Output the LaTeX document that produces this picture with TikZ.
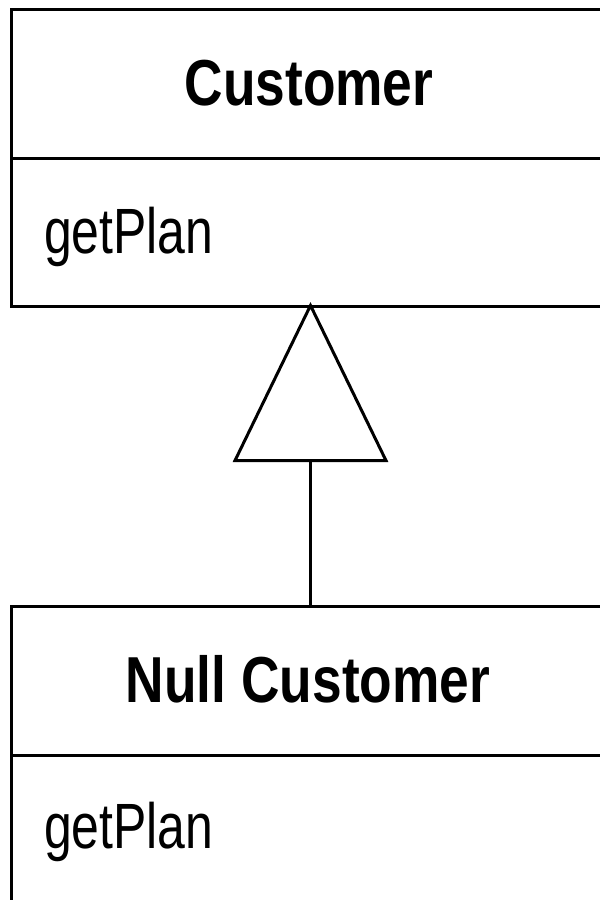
\documentclass[tikz,border=0pt]{standalone}
\usepackage{fontspec}
\setmainfont{Liberation Sans}
\newfontfamily\titlefont{Liberation Sans}[FakeStretch=0.82]
\newfontfamily\opfont{Liberation Sans}[FakeStretch=0.78]
\usetikzlibrary{arrows.meta}
\begin{document}
\begin{tikzpicture}[x=1pt,y=-1pt,
  classbox/.style={draw, line width=3pt, inner sep=0pt, minimum width=598pt, anchor=north west},
  divider/.style={line width=3pt},
  classname/.style={anchor=base, inner sep=0pt, font=\titlefont\bfseries\fontsize{65}{70}\selectfont},
  opname/.style={anchor=base west, inner sep=0pt, font=\opfont\fontsize{64}{70}\selectfont},
  inherit/.style={line width=3pt, shorten >=-6pt, -{Triangle[open, length=160pt, width=155pt]}}]
\useasboundingbox (0,0) rectangle (600,900);
\fill[white] (0,0) rectangle (600,900);
% top class
\node[classbox, minimum height=297pt] (cust) at (10,8) {};
\coordinate (cdivL) at (10,158);
\coordinate (cdivR) at (608,158);
\draw[divider] (cdivL) -- (cdivR);
\node[classname] (custname) at (309,105) {Customer};
\node[opname] (custop) at (44,253) {getPlan};
% bottom class
\node[classbox, minimum height=400pt] (null) at (10,605) {};
\coordinate (ndivL) at (10,755);
\coordinate (ndivR) at (608,755);
\draw[divider] (ndivL) -- (ndivR);
\node[classname] (nullname) at (308,702) {Null Customer};
\node[opname] (nullop) at (44,848) {getPlan};
% generalization
\draw[inherit] (null.north) -- (cust.south);
\end{tikzpicture}
\end{document}
